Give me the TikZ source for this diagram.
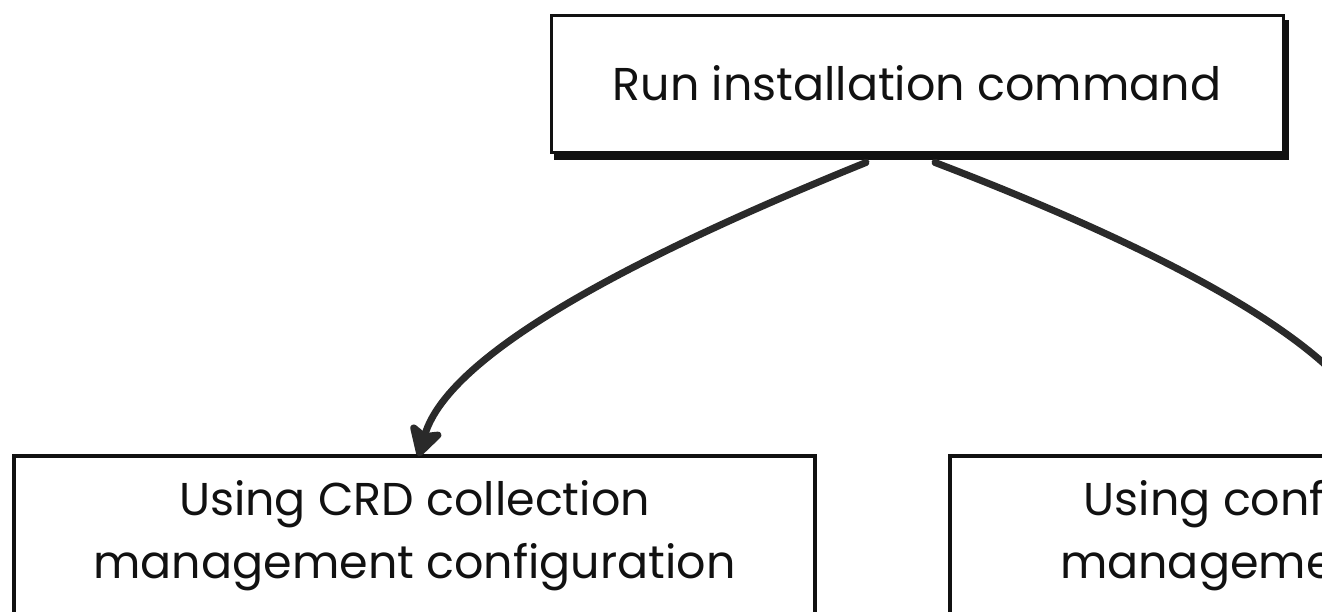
\documentclass[tikz,border=0pt]{standalone}
\usepackage{fontspec}
\setmainfont{Poppins}
\usetikzlibrary{arrows.meta}
\definecolor{ink}{HTML}{111111}
\definecolor{wire}{HTML}{2A2A2A}
\tikzset{
  stepbox/.style={draw=ink, line width=3pt, fill=white, rectangle, inner sep=0pt,
    align=center, font=\fontsize{46}{63}\selectfont, text=ink},
  shadowbox/.style={stepbox, preaction={fill=ink, draw=ink, line width=3pt, transform canvas={xshift=4pt,yshift=-6pt}}},
  flow/.style={draw=wire, line width=7pt, line cap=round,
    -{Stealth[length=36pt,width=40pt,inset=8pt,round]}},
}
\begin{document}
\begin{tikzpicture}[x=1pt,y=-1pt]
  \useasboundingbox (0,0) rectangle (1322,611);
  \clip (0,0) rectangle (1322,611);
  % boxes
  \node[shadowbox, minimum width=732pt, minimum height=137pt] (run) at (917,83.5) {Run installation command};
  \node[stepbox, line width=3.5pt, minimum width=801pt, minimum height=160pt] (crd) at (414.5,536)
    {Using CRD collection\\management configuration};
  \node[stepbox, line width=3.5pt, minimum width=862pt, minimum height=160pt] (cfg) at (1381,536)
    {Using configure collection\\management configuration};
  % connectors
  \coordinate (runL) at ([xshift=-51pt,yshift=-9pt]run.south);
  \coordinate (runR) at ([xshift=18pt,yshift=-9pt]run.south);
  \draw[flow] (runL) .. controls (650,250) and (450,350) .. ([xshift=4pt,yshift=-2pt]crd.north);
  \draw[flow] (runR) .. controls (1151,245) and (1351,345) .. ([yshift=-2pt]cfg.north);
\end{tikzpicture}
\end{document}
